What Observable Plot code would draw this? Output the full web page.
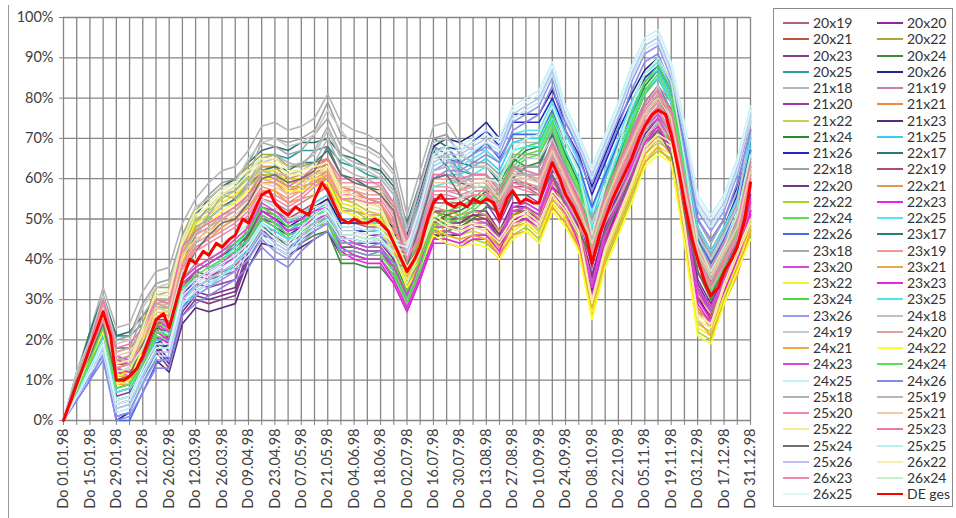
<!DOCTYPE html>
<html>
<head>
<meta charset="utf-8">
<script src="https://cdn.jsdelivr.net/npm/d3@7"></script>
<script src="https://cdn.jsdelivr.net/npm/@observablehq/plot@0.6"></script>
<style>
  body { margin: 0; background: #fff; font-family: Lato, "Open Sans", sans-serif; }
  #wrap { position: relative; width: 956px; height: 518px; overflow: hidden; background: #fff; }
  #chart { position: absolute; left: 0; top: 0; }
  #frame { position: absolute; left: 8px; top: 5px; height: 513px; border-left: 1px solid #9a9a9a; }
  #legend {
    position: absolute; left: 773px; top: 8px; width: 180px; height: 499px;
    box-sizing: border-box; border: 1px solid #8c8c8c; padding: 6px 0 0 9px;
    display: grid; grid-template-columns: 94px 80px; grid-auto-rows: 16.25px;
    font-size: 14px; color: #333;
  }
  .item { display: flex; align-items: center; white-space: nowrap; line-height: 16px; }
  .sw { display: inline-block; width: 26px; height: 2.2px; margin-right: 4px; }
</style>
</head>
<body>
<div id="wrap">
  <div id="chart"></div>
  <div id="frame"></div>
  <div id="legend"></div>
</div>
<script>
// Weekly values (Thursdays, 01.01.98 – 31.12.98), in percent
const v20x19 = [0,8,17,28,12,13,18,23,19,32, 36,35,36,37,46,52,51,49,51,53, 55,49,49,48,48,44,38,45,54,54, 54,56,56,51,58,58,56,64,61,53, 40,52,61,69,76,80,76,58,39,33, 40,47,60];
const v20x20 = [0,7,15,24,8,9,14,19,15,28, 32,31,32,33,42,48,47,45,47,49, 51,45,45,44,44,40,34,41,50,50, 50,52,52,47,54,54,52,60,57,49, 36,48,57,65,72,76,72,54,35,29, 36,43,56];
const v20x21 = [0,8,18,27,14,14,21,29,29,42, 48,50,53,55,58,62,62,59,60,61, 64,57,56,54,53,47,38,44,52,51, 50,51,50,46,51,52,49,58,54,48, 33,45,53,61,69,73,69,51,30,26, 34,41,52];
const v20x22 = [0,8,18,28,15,16,24,33,33,46, 53,55,58,60,63,66,66,63,63,64, 65,58,57,55,54,47,39,44,52,50, 49,50,49,46,51,53,50,58,54,48, 31,44,52,60,69,72,70,50,27,25, 35,43,51];
const v20x23 = [0,7,14,22,6,7,12,17,13,26, 30,29,30,31,40,46,45,43,45,47, 49,43,43,42,42,38,32,39,48,48, 48,50,50,45,52,52,50,58,55,47, 34,46,55,63,70,74,70,52,33,27, 34,41,54];
const v20x24 = [0,7,13,20,5,6,11,19,18,30, 33,35,37,39,42,48,46,43,44,46, 47,39,39,38,38,34,27,35,45,47, 48,50,53,52,60,63,64,71,62,55, 39,51,61,71,79,83,77,58,37,30, 36,44,59];
const v20x25 = [0,11,21,29,21,21,24,28,28,43, 49,53,56,58,62,65,66,65,67,67, 68,64,63,61,60,56,47,57,68,66, 62,61,61,57,63,61,61,69,61,55, 44,55,63,71,79,83,77,60,45,37, 42,48,65];
const v20x26 = [0,6,13,22,0,2,12,19,21,33, 37,39,41,43,46,52,50,48,50,53, 55,49,49,49,50,48,48,57,68,70, 69,71,74,70,76,76,76,82,74,68, 58,66,74,81,87,90,84,68,50,44, 50,58,72];
const v21x18 = [0,12,22,33,23,24,32,37,38,49, 55,59,62,63,67,73,74,72,73,75, 81,74,72,71,69,65,51,62,73,74, 69,67,67,64,69,69,69,74,66,60, 53,60,66,73,81,85,79,64,50,44, 50,57,71];
const v21x19 = [0,9,18,30,15,16,21,26,22,35, 39,38,39,40,49,55,54,52,54,56, 58,52,52,51,51,47,41,48,57,57, 57,59,59,54,61,61,59,67,64,56, 43,55,64,72,79,83,79,61,42,36, 43,50,63];
const v21x20 = [0,8,16,26,10,11,16,21,17,30, 34,33,34,35,44,50,49,47,49,51, 53,47,47,46,46,42,36,43,52,52, 52,54,54,49,56,56,54,62,59,51, 38,50,59,67,74,78,74,56,37,31, 38,45,58];
const v21x21 = [0,8,17,25,12,12,19,27,27,40, 46,48,51,53,56,60,60,57,58,59, 62,55,54,52,51,45,36,42,50,49, 48,49,48,44,49,50,47,56,52,46, 31,43,51,59,67,71,67,49,28,24, 32,39,50];
const v21x22 = [0,8,16,25,12,13,21,30,30,43, 50,52,55,57,60,63,63,60,60,61, 62,55,54,52,51,44,36,41,49,47, 46,47,46,43,48,50,47,55,51,45, 28,41,49,57,66,69,67,47,24,22, 32,40,48];
const v21x23 = [0,7,13,20,4,5,10,15,12,24, 28,27,28,29,38,44,43,41,43,45, 47,41,41,40,40,36,30,37,46,46, 46,48,48,43,50,50,48,56,53,45, 32,44,53,61,68,72,68,50,31,25, 32,39,52];
const v21x24 = [0,7,15,24,9,10,15,23,22,34, 37,39,41,43,46,52,50,47,48,50, 51,43,43,42,42,38,31,39,49,51, 52,54,57,56,64,67,68,75,66,59, 43,55,65,75,83,87,81,62,41,34, 40,48,63];
const v21x25 = [0,7,14,21,5,6,13,20,20,31, 33,35,38,41,45,51,49,47,49,52, 54,48,48,47,47,43,40,49,60,61, 61,63,65,62,69,70,70,77,69,62, 50,60,68,77,84,87,81,64,46,40, 46,53,68];
const v21x26 = [0,6,12,20,1,2,10,17,19,31, 35,37,39,41,44,50,48,46,48,51, 53,47,47,47,48,46,46,55,66,68, 67,69,72,68,74,74,74,80,72,66, 56,64,72,79,85,88,82,66,48,42, 48,56,70];
const v22x17 = [0,11,22,31,21,22,26,30,30,45, 51,55,58,60,64,67,68,67,69,69, 70,66,65,63,62,58,49,59,70,68, 64,63,63,59,65,63,63,71,63,57, 46,57,65,73,81,85,79,62,47,39, 44,50,67];
const v22x18 = [0,12,20,30,20,21,29,34,35,46, 52,56,59,60,64,70,70,69,70,72, 79,71,69,68,66,62,48,59,70,71, 66,64,64,61,66,66,66,72,63,57, 50,57,63,70,78,82,76,61,47,41, 47,54,70];
const v22x19 = [0,8,17,29,13,14,19,24,20,33, 37,36,37,38,47,53,52,50,52,54, 56,50,50,49,49,45,39,46,55,55, 55,57,57,52,59,59,57,65,62,54, 41,53,62,70,77,81,77,59,40,34, 41,48,61];
const v22x20 = [0,7,14,23,7,8,13,18,14,27, 31,30,31,32,41,47,46,44,46,48, 50,44,44,43,43,39,33,40,49,49, 49,51,51,46,53,53,51,59,56,48, 35,47,56,64,71,75,71,53,34,28, 35,42,55];
const v22x21 = [0,8,18,28,15,15,22,30,30,43, 49,51,54,56,59,63,63,60,61,62, 65,58,57,55,54,48,39,45,53,52, 51,52,51,47,52,53,50,59,55,49, 34,46,54,62,70,74,70,52,31,27, 35,42,53];
const v22x22 = [0,8,15,23,10,11,19,28,28,41, 48,50,53,55,58,61,61,58,58,59, 60,53,52,50,49,42,34,39,47,45, 44,45,44,41,46,48,45,53,49,43, 26,39,47,55,64,67,65,45,22,20, 30,38,46];
const v22x23 = [0,8,15,24,12,11,14,21,19,31, 34,36,38,41,44,51,49,46,47,49, 50,42,40,39,39,34,27,35,44,44, 43,45,45,41,49,50,48,57,51,43, 30,43,51,60,69,72,67,47,29,24, 31,39,51];
const v22x24 = [0,7,14,22,7,8,13,21,20,32, 35,37,39,41,44,50,48,45,46,48, 49,41,41,40,40,36,29,37,47,49, 50,52,55,54,62,65,66,73,64,57, 41,53,63,73,81,85,79,60,39,32, 38,46,61];
const v22x25 = [0,7,15,23,7,8,15,22,22,33, 35,37,40,43,47,53,51,49,51,54, 56,50,50,49,49,45,42,51,62,63, 63,65,67,64,71,72,72,79,71,64, 52,62,70,79,86,89,83,66,48,42, 48,55,70];
const v22x26 = [0,5,10,17,0,0,7,14,16,28, 32,34,36,38,41,47,45,43,45,48, 50,44,44,44,45,43,43,52,63,65, 64,66,69,65,71,71,71,77,69,63, 53,61,69,76,82,85,79,63,45,39, 45,53,67];
const v23x17 = [0,11,19,27,18,18,21,25,25,40, 46,50,53,55,59,62,63,62,64,64, 67,61,60,58,57,53,44,54,67,63, 59,58,58,54,60,58,58,66,58,52, 41,52,60,68,76,80,74,57,42,34, 39,45,62];
const v23x18 = [0,11,19,28,17,18,26,31,32,43, 49,53,56,57,61,69,68,66,67,71, 75,68,66,65,63,59,45,56,67,68, 63,61,61,58,63,63,63,68,60,54, 47,54,60,67,76,79,73,58,42,38, 44,51,65];
const v23x19 = [0,9,18,27,15,16,20,27,26,40, 44,46,48,50,53,58,57,55,57,60, 62,57,57,56,56,51,42,48,58,58, 57,58,58,54,60,59,58,66,59,52, 43,53,61,68,75,79,74,57,41,35, 41,47,61];
const v23x20 = [0,8,17,27,15,14,17,24,22,34, 37,39,41,44,47,54,52,49,50,52, 53,45,43,42,42,37,30,38,47,47, 46,48,48,44,52,53,51,60,54,46, 33,46,54,63,72,75,70,50,32,27, 34,42,54];
const v23x21 = [0,8,16,24,11,11,18,26,26,39, 45,47,50,52,55,59,59,56,57,58, 61,54,53,51,50,44,35,41,49,48, 47,48,47,43,48,49,46,55,51,45, 30,42,50,58,66,70,66,48,27,23, 31,38,49];
const v23x22 = [0,8,16,24,11,12,20,29,29,42, 49,51,54,56,59,62,62,59,59,60, 61,54,53,51,50,43,35,40,48,46, 45,46,45,42,47,49,46,54,50,44, 27,40,48,56,65,68,66,46,23,21, 31,39,47];
const v23x23 = [0,8,16,25,13,12,15,22,20,32, 35,37,39,42,45,52,50,47,48,50, 51,43,41,40,40,35,28,36,45,45, 44,46,46,42,50,51,49,58,52,44, 31,44,52,61,70,73,68,48,30,25, 32,40,52];
const v23x24 = [0,7,16,25,10,11,16,24,23,35, 38,40,42,44,47,53,51,48,49,51, 52,44,44,43,43,39,32,40,50,52, 53,55,58,57,65,68,69,76,67,60, 44,56,66,76,84,88,82,63,42,35, 41,49,64];
const v23x25 = [0,7,13,19,3,4,11,18,18,29, 31,33,36,39,43,49,47,45,47,50, 52,46,46,45,45,41,38,47,58,59, 59,61,63,60,67,68,68,75,67,60, 48,58,66,75,82,85,79,62,44,38, 44,51,66];
const v23x26 = [0,6,11,16,1,2,9,15,15,28, 31,33,35,37,40,45,42,40,44,47, 49,44,44,43,44,41,40,50,62,64, 64,66,68,66,74,76,78,85,74,67, 59,67,75,84,91,93,85,70,52,47, 52,61,74];
const v24x18 = [0,11,18,26,14,15,23,28,29,42, 46,50,53,54,58,64,65,63,64,66, 72,65,63,62,60,56,42,53,66,65, 60,58,58,55,60,60,60,67,57,51, 44,51,57,64,72,76,70,55,41,35, 41,48,62];
const v24x19 = [0,12,20,31,19,20,28,33,34,45, 53,55,58,59,65,69,70,68,69,71, 77,72,68,67,65,61,47,58,69,70, 67,63,63,60,65,65,65,70,62,56, 49,56,62,69,77,83,75,60,46,40, 46,53,74];
const v24x20 = [0,9,19,29,17,18,22,29,28,42, 46,48,50,52,55,60,59,57,59,62, 64,59,59,58,58,53,44,50,60,60, 59,60,60,56,62,61,60,68,61,54, 45,55,63,70,77,81,76,59,43,37, 43,49,63];
const v24x21 = [0,8,15,22,9,9,16,24,24,37, 43,45,48,50,53,57,57,54,55,56, 59,52,51,49,48,42,33,39,47,46, 45,46,45,41,46,47,44,53,49,43, 28,40,48,56,64,68,64,46,25,21, 29,36,47];
const v24x22 = [0,8,15,22,9,10,18,27,27,40, 47,49,52,54,57,60,60,57,57,58, 59,52,51,49,48,41,33,38,46,44, 43,44,43,40,45,47,44,52,48,42, 25,38,46,54,63,66,64,44,21,19, 29,37,45];
const v24x23 = [0,9,17,28,16,15,18,25,23,35, 38,40,42,45,48,55,53,50,51,53, 54,46,44,43,43,38,31,39,48,48, 47,49,49,45,53,54,52,61,55,47, 34,47,55,64,73,76,71,51,33,28, 35,43,55];
const v24x24 = [0,7,15,23,8,9,14,22,21,33, 36,38,40,42,45,51,49,46,47,49, 50,42,42,41,41,37,30,38,48,50, 51,53,56,55,63,66,67,74,65,58, 42,54,64,74,82,86,80,61,40,33, 39,47,62];
const v24x25 = [0,6,13,20,5,6,13,19,19,32, 35,37,39,41,44,49,46,44,48,51, 53,48,48,47,48,45,44,54,66,68, 68,70,72,70,78,80,82,89,78,71, 63,71,79,88,95,97,89,74,56,51, 56,65,78];
const v24x26 = [0,5,10,15,0,1,7,13,13,26, 29,31,33,35,38,43,40,38,42,45, 47,42,42,41,42,39,38,48,60,62, 62,64,66,64,72,74,76,83,72,65, 57,65,73,82,89,91,83,68,50,45, 50,59,72];
const v25x18 = [0,11,18,27,15,16,24,29,30,41, 47,51,56,55,59,65,66,64,63,67, 73,66,64,63,61,57,45,54,65,66, 61,59,59,56,61,61,61,66,58,52, 45,54,58,65,73,77,71,56,42,36, 42,49,63];
const v25x19 = [0,10,17,25,12,13,21,28,27,38, 44,48,51,52,56,62,61,61,62,64, 70,63,61,60,58,54,40,51,62,63, 58,56,56,53,60,58,58,63,55,49, 42,49,55,62,70,74,68,53,39,33, 39,46,60];
const v25x20 = [0,9,17,26,14,15,19,26,25,39, 43,45,47,49,52,57,56,54,56,59, 61,56,56,55,55,50,41,47,57,57, 56,57,57,53,59,58,57,65,58,51, 42,52,60,67,74,78,73,56,40,34, 40,46,60];
const v25x21 = [0,9,18,28,16,17,21,28,27,41, 45,47,49,51,54,59,58,56,58,61, 63,58,58,57,57,52,43,49,59,59, 58,59,59,55,61,60,59,67,60,53, 44,54,62,69,76,80,75,58,42,36, 42,48,62];
const v25x22 = [0,8,17,26,13,14,22,31,31,44, 51,53,56,58,61,64,64,61,61,62, 63,56,55,53,52,45,37,42,50,48, 47,48,47,44,49,51,48,56,52,46, 29,42,50,58,67,70,68,48,25,23, 33,41,49];
const v25x23 = [0,9,19,30,18,19,23,30,29,43, 47,49,51,53,56,61,60,58,60,63, 65,60,60,59,59,54,45,51,61,61, 60,61,61,57,63,62,61,69,62,55, 46,56,64,71,78,82,77,60,44,38, 44,50,64];
const v25x24 = [0,10,16,24,10,11,19,24,25,36, 42,46,49,50,54,60,61,59,60,62, 68,61,59,58,56,52,38,49,60,61, 56,54,54,51,56,56,56,61,53,47, 40,47,53,60,68,72,66,51,37,31, 37,44,58];
const v25x25 = [0,6,12,17,2,3,10,16,16,29, 32,34,36,38,41,46,43,41,45,48, 50,45,45,44,45,42,41,51,63,65, 65,67,69,67,75,77,79,86,75,68, 60,68,76,85,92,94,86,71,53,48, 53,62,75];
const v25x26 = [0,6,12,18,3,4,11,17,17,30, 33,35,37,39,42,47,44,42,46,49, 51,46,46,45,46,43,42,52,64,66, 66,68,70,68,76,78,80,87,76,69, 61,69,77,86,93,95,87,72,54,49, 54,63,76];
const v26x22 = [0,8,18,27,14,15,23,32,32,45, 52,54,57,59,62,65,65,62,62,63, 64,57,56,54,53,46,38,43,51,49, 48,49,48,45,50,52,49,57,53,47, 30,43,51,59,68,71,69,49,26,24, 34,42,50];
const v26x23 = [0,9,17,25,13,14,18,25,24,38, 42,44,46,48,51,56,55,53,55,58, 60,55,55,54,54,49,40,46,56,56, 55,56,56,52,58,57,56,64,57,50, 41,51,59,66,73,77,72,55,39,33, 39,45,59];
const v26x24 = [0,8,17,27,12,13,18,26,25,37, 40,42,44,46,49,55,53,50,51,53, 54,46,46,45,45,41,34,42,52,54, 55,57,60,59,67,70,71,78,69,62, 46,58,68,78,86,90,84,65,44,37, 43,51,66];
const v26x25 = [0,6,12,19,4,5,12,18,18,31, 34,36,38,40,43,48,45,43,47,50, 52,47,47,46,47,44,43,53,65,67, 67,69,71,69,77,79,81,88,77,70, 62,70,78,87,94,96,88,73,55,50, 55,64,77];

// Germany overall, twice a week (Thursday and Monday), in percent
const deGes = [0,5, 9,14, 18,23, 27,21, 10,10, 11,13, 16,21, 25,26.5, 23,30, 35,40,
  39,42, 41,44, 43,45, 46,50, 49,53, 56,57, 54,52, 51,53, 52,51, 55,59,
  57,53, 50,49, 50,49, 49,50, 49,47, 44,40, 37,40, 43,50, 54,56, 54,53,
  54,53, 55,54, 55,54, 50,55, 57,54, 55,54, 54,60, 64,60, 56,53, 50,46,
  39,46, 50,55, 58,62, 65,70, 73,76, 77,76, 71,62, 54,45, 40,34, 31,33,
  37,40, 43,50, 59];

const seriesNames = ["20x19","20x20","20x21","20x22","20x23","20x24","20x25","20x26",
  "21x18","21x19","21x20","21x21","21x22","21x23","21x24","21x25","21x26",
  "22x17","22x18","22x19","22x20","22x21","22x22","22x23","22x24","22x25","22x26",
  "23x17","23x18","23x19","23x20","23x21","23x22","23x23","23x24","23x25","23x26",
  "24x18","24x19","24x20","24x21","24x22","24x23","24x24","24x25","24x26",
  "25x18","25x19","25x20","25x21","25x22","25x23","25x24","25x25","25x26",
  "26x22","26x23","26x24","26x25"];

const seriesColors = ["#b0607a","#8a2a9a","#b85a38","#a8a838","#8a3a8e","#3c8c3c","#2aa0a0","#202890",
  "#b4b4b4","#c880a8","#9a3aa8","#f08838","#c8d448","#5a2a7a","#2a8a2a","#38d0f0","#2028c8",
  "#2a7870","#a0a0a0","#b04878","#6a3a7a","#e09858","#a8d420","#f020e8","#58e058","#58e4f0","#4868e8",
  "#288070","#a8a8a8","#f09898","#d048d8","#e8a848","#f8f028","#e828e0","#48d848","#48e8f0","#9898f0",
  "#c0c0c0","#c8c8c8","#e0a0a0","#f0a838","#ffff28","#d848d8","#58e058","#c8f0f8","#8888e8",
  "#b0b0b0","#b8b8b8","#f088a8","#f8c8a8","#f0f098","#f078a8","#707070","#b8f0f0","#c0c0f0",
  "#f8f0a8","#f088a8","#c8f0c8","#d8f8f8"];

const seriesValues = [v20x19,v20x20,v20x21,v20x22,v20x23,v20x24,v20x25,v20x26,
  v21x18,v21x19,v21x20,v21x21,v21x22,v21x23,v21x24,v21x25,v21x26,
  v22x17,v22x18,v22x19,v22x20,v22x21,v22x22,v22x23,v22x24,v22x25,v22x26,
  v23x17,v23x18,v23x19,v23x20,v23x21,v23x22,v23x23,v23x24,v23x25,v23x26,
  v24x18,v24x19,v24x20,v24x21,v24x22,v24x23,v24x24,v24x25,v24x26,
  v25x18,v25x19,v25x20,v25x21,v25x22,v25x23,v25x24,v25x25,v25x26,
  v26x22,v26x23,v26x24,v26x25];

const totalName = "DE ges";
const totalColor = "#ff0000";
const yTicks = [0,10,20,30,40,50,60,70,80,90,100];

// Dates: every Thursday of 1998, plus the Mondays in between for the total
const start = new Date(Date.UTC(1998, 0, 1));
const weeks = d3.range(53).map(i => d3.utcDay.offset(start, 7 * i));
const halfWeeks = d3.range(deGes.length).map(k => d3.utcDay.offset(start, Math.floor(k / 2) * 7 + (k % 2 ? 4 : 0)));
const fmtDay = d3.utcFormat("%d.%m.%y");
const weekIndex = d => Math.round((d - start) / (7 * 864e5));

const gridColor = "#868686";

const lineMarks = seriesNames.map((name, j) =>
  Plot.line(weeks.map((d, i) => ({date: d, value: seriesValues[j][i], name})),
    {x: "date", y: "value", stroke: seriesColors[j], strokeWidth: 1.6})
);

const chart = Plot.plot({
  width: 765,
  height: 518,
  marginLeft: 63,
  marginRight: 15,
  marginTop: 17,
  marginBottom: 98,
  style: {fontFamily: "Lato, 'Open Sans', sans-serif", fontSize: "14.5px", color: "#404040", background: "transparent", overflow: "visible"},
  x: {type: "utc", domain: [weeks[0], weeks[52]], label: null},
  y: {domain: [0, 100], label: null},
  marks: [
    Plot.gridX(weeks, {stroke: gridColor, strokeOpacity: 1, strokeWidth: 1.3}),
    Plot.gridY(yTicks, {stroke: gridColor, strokeOpacity: 1, strokeWidth: 1.3}),
    Plot.axisY(yTicks, {tickFormat: d => d + "%", tickSize: 4, tickPadding: 6, stroke: gridColor, label: null}),
    Plot.axisX(weeks, {
      tickFormat: d => weekIndex(d) % 2 === 0 ? "Do " + fmtDay(d) : "",
      tickRotate: -90, tickSize: 5, tickPadding: 3, stroke: gridColor, label: null
    }),
    ...lineMarks,
    Plot.line(halfWeeks.map((d, i) => ({date: d, value: deGes[i]})),
      {x: "date", y: "value", stroke: totalColor, strokeWidth: 3})
  ]
});
document.getElementById("chart").appendChild(chart);

// Two-column legend, filled row by row
const legend = d3.select("#legend");
const entries = seriesNames.map((n, j) => ({name: n, color: seriesColors[j]}))
  .concat([{name: totalName, color: totalColor}]);
entries.forEach(e => {
  const item = legend.append("div").attr("class", "item");
  item.append("span").attr("class", "sw").style("background", e.color);
  item.append("span").text(e.name);
});
</script>
</body>
</html>
